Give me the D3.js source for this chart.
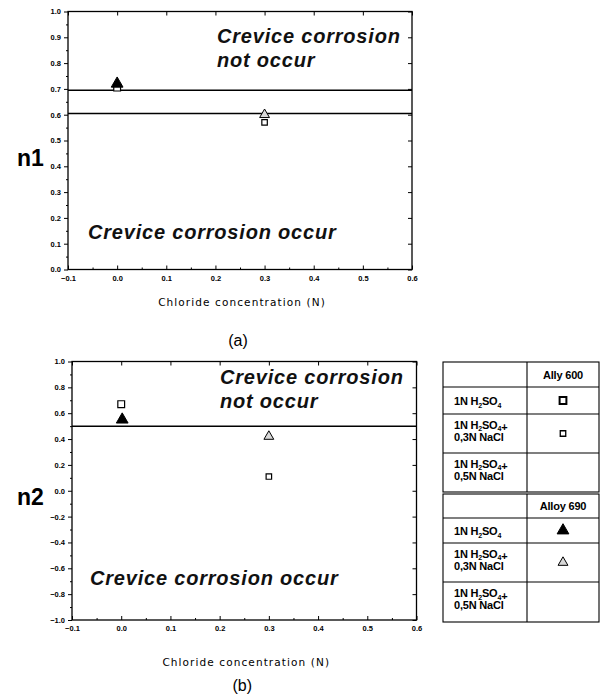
<!DOCTYPE html>
<html>
<head>
<meta charset="utf-8">
<script src="https://cdn.jsdelivr.net/npm/d3@7"></script>
<style>
  html, body { margin: 0; padding: 0; background: #fff; }
  svg { display: block; }
  .tick text { font-family: "Liberation Sans", Arial, sans-serif; font-weight: bold; font-size: 7.5px; fill: #000; }
  .region { font-family: "Liberation Sans", Arial, sans-serif; font-style: italic; font-weight: bold; font-size: 20px; letter-spacing: 0.8px; fill: #111; }
  .ylab { font-family: "Liberation Sans", Arial, sans-serif; font-weight: bold; font-size: 23px; fill: #000; }
  .xlab { font-family: "DejaVu Sans", sans-serif; font-size: 10.5px; letter-spacing: 1.1px; fill: #000; }
  .panel { font-family: "Liberation Sans", Arial, sans-serif; font-size: 16px; fill: #000; }
  .tbl { font-family: "Liberation Sans", Arial, sans-serif; font-weight: bold; font-size: 11px; fill: #000; letter-spacing: -0.2px; }
</style>
</head>
<body>
<svg id="chart" width="600" height="696"></svg>
<script>
// Chloride concentrations (N) of the test solutions
const conc = [0.0, 0.3];

// Panel (a): n1 values
const n1Alloy600 = [0.705, 0.57];
const n1Alloy690 = [0.72, 0.60];
const n1Thresholds = [0.695, 0.605];

// Panel (b): n2 values
const n2Alloy600 = [0.67, 0.11];
const n2Alloy690 = [0.55, 0.42];
const n2Thresholds = [0.5];

// Axis ticks
const xTicks = [-0.1, 0.0, 0.1, 0.2, 0.3, 0.4, 0.5, 0.6];
const n1Ticks = [0.0, 0.1, 0.2, 0.3, 0.4, 0.5, 0.6, 0.7, 0.8, 0.9, 1.0];
const n2Ticks = [-1.0, -0.8, -0.6, -0.4, -0.2, 0.0, 0.2, 0.4, 0.6, 0.8, 1.0];

// Legend table rows
const solutions = ["1N H2SO4", "1N H2SO4+|0,3N NaCl", "1N H2SO4+|0,5N NaCl"];
const alloys = ["Ally 600", "Alloy 690"];

const svg = d3.select("#chart");

function fmt(v) { return d3.format(".1f")(v); }

// marker shapes: first solution / second solution
const squareBig = d3.symbol().type(d3.symbolSquare).size(46);
const squareSmall = d3.symbol().type(d3.symbolSquare).size(30);
const triBig = d3.symbol().type(d3.symbolTriangle).size(60);
const triSmall = d3.symbol().type(d3.symbolTriangle).size(42);

function drawPanel(cfg) {
  const g = svg.append("g");
  const x = d3.scaleLinear().domain([-0.1, 0.6]).range([cfg.x0, cfg.x1]);
  const y = d3.scaleLinear().domain(cfg.yDomain).range([cfg.y1, cfg.y0]);

  // frame
  g.append("rect").attr("x", cfg.x0).attr("y", cfg.y0)
    .attr("width", cfg.x1 - cfg.x0).attr("height", cfg.y1 - cfg.y0)
    .attr("fill", "none").attr("stroke", "#000").attr("stroke-width", 1.3);

  // bottom axis
  const bx = g.append("g").attr("transform", `translate(0,${cfg.y1})`)
    .call(d3.axisBottom(x).tickValues(xTicks).tickFormat(fmt).tickSize(-4).tickPadding(6));
  bx.select(".domain").remove();
  const xMinor = d3.range(-0.05, 0.6, 0.1);
  g.append("g").attr("transform", `translate(0,${cfg.y1})`)
    .call(d3.axisBottom(x).tickValues(xMinor).tickFormat("").tickSize(-2))
    .select(".domain").remove();
  // top axis ticks
  g.append("g").attr("transform", `translate(0,${cfg.y0})`)
    .call(d3.axisTop(x).tickValues(xTicks).tickFormat("").tickSize(-4))
    .select(".domain").remove();

  // left axis
  const ly = g.append("g").attr("transform", `translate(${cfg.x0},0)`)
    .call(d3.axisLeft(y).tickValues(cfg.yTicks).tickFormat(fmt).tickSize(4).tickPadding(3));
  ly.select(".domain").remove();
  g.append("g").attr("transform", `translate(${cfg.x0},0)`)
    .call(d3.axisLeft(y).tickValues(cfg.yMinor).tickFormat("").tickSize(2))
    .select(".domain").remove();
  // right axis ticks
  g.append("g").attr("transform", `translate(${cfg.x1},0)`)
    .call(d3.axisRight(y).tickValues(cfg.yTicks).tickFormat("").tickSize(-4))
    .select(".domain").remove();
  g.selectAll(".tick line").attr("stroke", "#000").attr("stroke-width", 1);

  // threshold lines
  g.selectAll("line.thr").data(cfg.thresholds).join("line")
    .attr("class", "thr")
    .attr("x1", cfg.x0).attr("x2", cfg.x1)
    .attr("y1", d => y(d)).attr("y2", d => y(d))
    .attr("stroke", "#000").attr("stroke-width", 1.5);

  // Alloy 600 squares
  g.selectAll("path.a600").data(conc.map((c, i) => [c, cfg.a600[i], i])).join("path")
    .attr("class", "a600")
    .attr("transform", d => `translate(${x(d[0])},${y(d[1])})`)
    .attr("d", d => (d[2] === 0 ? squareBig : squareSmall)())
    .attr("fill", "#fff").attr("stroke", "#000").attr("stroke-width", 1.2);

  // Alloy 690 triangles
  g.selectAll("path.a690").data(conc.map((c, i) => [c, cfg.a690[i], i])).join("path")
    .attr("class", "a690")
    .attr("transform", d => `translate(${x(d[0]) + (d[2] === 0 ? cfg.triShift : 0)},${y(d[1])})`)
    .attr("d", d => (d[2] === 0 ? triBig : triSmall)())
    .attr("fill", d => d[2] === 0 ? "#000" : "#d8d8d8")
    .attr("stroke", "#000").attr("stroke-width", 1);

  // region labels
  g.append("text").attr("class", "region").attr("x", cfg.tx1).attr("y", cfg.ty1).text("Crevice corrosion");
  g.append("text").attr("class", "region").attr("x", cfg.tx1).attr("y", cfg.ty1 + 24).text("not occur");
  g.append("text").attr("class", "region").attr("x", cfg.tx2).attr("y", cfg.ty2).text("Crevice corrosion occur");

  // axis titles
  g.append("text").attr("class", "ylab").attr("x", 17).attr("y", cfg.ylabY).text(cfg.ylab);
  g.append("text").attr("class", "xlab").attr("x", (cfg.x0 + cfg.x1) / 2 + 2).attr("y", cfg.xlabY)
    .attr("text-anchor", "middle").text("Chloride concentration (N)");
  g.append("text").attr("class", "panel").attr("x", (cfg.x0 + cfg.x1) / 2 - 2).attr("y", cfg.panelY)
    .attr("text-anchor", "middle").text(cfg.panel);
}

drawPanel({
  x0: 68, x1: 412, y0: 11.5, y1: 269.5,
  yDomain: [0, 1], yTicks: n1Ticks, yMinor: d3.range(0.05, 1, 0.1),
  thresholds: n1Thresholds, a600: n1Alloy600, a690: n1Alloy690, triShift: 0,
  tx1: 217, ty1: 43, tx2: 88, ty2: 239,
  ylab: "n1", ylabY: 166, xlabY: 306, panelY: 346, panel: "(a)"
});

drawPanel({
  x0: 72, x1: 416.5, y0: 361.5, y1: 620,
  yDomain: [-1, 1], yTicks: n2Ticks, yMinor: d3.range(-0.9, 1, 0.2),
  thresholds: n2Thresholds, a600: n2Alloy600, a690: n2Alloy690, triShift: 1,
  tx1: 220, ty1: 384, tx2: 90, ty2: 585,
  ylab: "n2", ylabY: 505, xlabY: 666, panelY: 691, panel: "(b)"
});

// Legend tables (one block per alloy)
function chemLine(sel, txt) {
  // render H2SO4 with subscripts
  const parts = txt.split(/(H2SO4)/);
  parts.forEach(p => {
    if (p === "H2SO4") {
      sel.append("tspan").text("H");
      sel.append("tspan").attr("font-size", "7px").attr("dy", 2.5).text("2");
      sel.append("tspan").attr("dy", -2.5).text("SO");
      sel.append("tspan").attr("font-size", "7px").attr("dy", 2.5).text("4");
      sel.append("tspan").attr("dy", -2.5).text("");
    } else if (p.length) {
      sel.append("tspan").text(p);
    }
  });
}

const tblX0 = 443, tblX1 = 527, tblX2 = 599;
const blocks = [
  { top: 362, rows: [387, 414, 453, 492], alloy: alloys[0] },
  { top: 494, rows: [518, 543, 582, 622], alloy: alloys[1] }
];
const leg = svg.append("g");
blocks.forEach((b, bi) => {
  leg.append("rect").attr("x", tblX0).attr("y", b.top)
    .attr("width", tblX2 - tblX0).attr("height", b.rows[3] - b.top)
    .attr("fill", "none").attr("stroke", "#000").attr("stroke-width", 1.1);
  leg.append("line").attr("x1", tblX1).attr("x2", tblX1).attr("y1", b.top).attr("y2", b.rows[3])
    .attr("stroke", "#000").attr("stroke-width", 1.1);
  b.rows.slice(0, 3).forEach(r => {
    leg.append("line").attr("x1", tblX0).attr("x2", tblX2).attr("y1", r).attr("y2", r)
      .attr("stroke", "#000").attr("stroke-width", 1.1);
  });
  // header
  leg.append("text").attr("class", "tbl").attr("x", (tblX1 + tblX2) / 2).attr("y", (b.top + b.rows[0]) / 2 + 4)
    .attr("text-anchor", "middle").text(b.alloy);
  const bounds = b.rows;
  solutions.forEach((s, si) => {
    const lines = s.split("|");
    const mid = (bounds[si] + bounds[si + 1]) / 2;
    lines.forEach((ln, li) => {
      const yy = lines.length === 1 ? mid + 4.5 : mid + 1 + (li - 0.5) * 12;
      const t = leg.append("text").attr("class", "tbl").attr("x", tblX0 + 11).attr("y", yy);
      chemLine(t, ln);
    });
    // symbol column
    if (si < 2) {
      const cx = (tblX1 + tblX2) / 2, cy = mid;
      if (bi === 0) {
        leg.append("path").attr("transform", `translate(${cx},${cy})`)
          .attr("d", (si === 0 ? squareBig : squareSmall)())
          .attr("fill", "#fff").attr("stroke", "#000").attr("stroke-width", si === 0 ? 2 : 1.3);
      } else {
        leg.append("path").attr("transform", `translate(${cx},${cy})`)
          .attr("d", (si === 0 ? triBig : triSmall)())
          .attr("fill", si === 0 ? "#000" : "#d8d8d8").attr("stroke", "#000").attr("stroke-width", 1);
      }
    }
  });
});
</script>
</body>
</html>
